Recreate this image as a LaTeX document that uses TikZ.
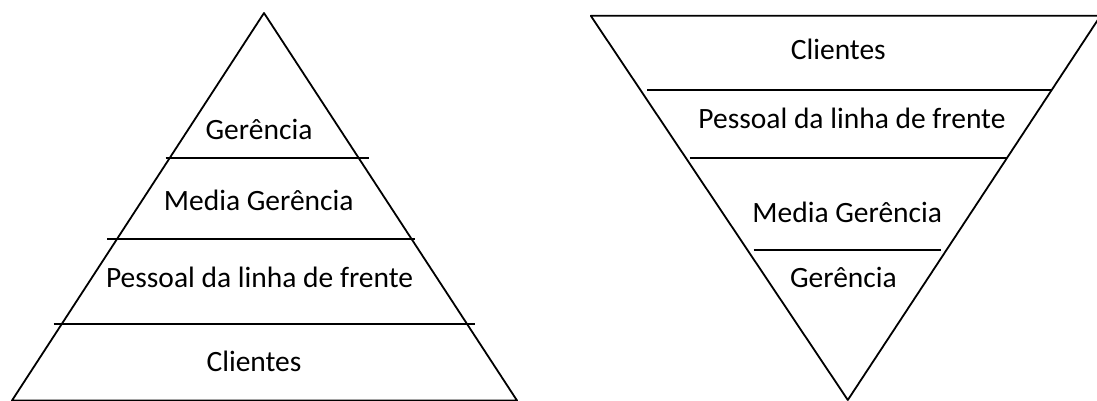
\documentclass[tikz,border=0pt]{standalone}
\usepackage{fontspec}
\setmainfont{Carlito}
\begin{document}
\begin{tikzpicture}[x=1pt,y=-1pt,
  edge/.style={line width=1.8pt, line join=round},
  tier/.style={line width=1.8pt},
  lbl/.style={anchor=base, inner sep=0pt, font=\fontsize{29.5}{35}\selectfont}]
\useasboundingbox (0,0) rectangle (1097,401);
\clip (0,0) rectangle (1097,401);
% ---- left pyramid ----
\coordinate (LA) at (264,13);
\coordinate (LB) at (12,400.5);
\coordinate (LC) at (517,400.5);
\draw[edge] (LA) -- (LB) -- (LC) -- cycle;
\coordinate (L1a) at (165.5,158.3); \coordinate (L1b) at (369,158.3);
\coordinate (L2a) at (107,238.8);   \coordinate (L2b) at (415,238.8);
\coordinate (L3a) at (53.5,324);    \coordinate (L3b) at (475,324);
\draw[tier] (L1a) -- (L1b);
\draw[tier] (L2a) -- (L2b);
\draw[tier] (L3a) -- (L3b);
\node[lbl] (lg) at (259,139.3) {Gerência};
\node[lbl] (lm) at (258.7,210) {Media Gerência};
\node[lbl] (lp) at (259.6,287) {Pessoal da linha de frente};
\node[lbl] (lc) at (254,371.7) {Clientes};
% ---- right inverted pyramid ----
\coordinate (RA) at (590.8,15.8);
\coordinate (RB) at (1100.5,15.8);
\coordinate (RC) at (847.8,400);
\draw[edge] (RA) -- (RB) -- (RC) -- cycle;
\coordinate (R1a) at (647.3,90.3);  \coordinate (R1b) at (1051.4,90.3);
\coordinate (R2a) at (689.5,158.3); \coordinate (R2b) at (1007,158.3);
\coordinate (R3a) at (753.5,250.3); \coordinate (R3b) at (941,250.3);
\draw[tier] (R1a) -- (R1b);
\draw[tier] (R2a) -- (R2b);
\draw[tier] (R3a) -- (R3b);
\node[lbl] (rc) at (838.3,60) {Clientes};
\node[lbl] (rp) at (852,128.3) {Pessoal da linha de frente};
\node[lbl] (rm) at (847.2,222.7) {Media Gerência};
\node[lbl] (rg) at (843.4,287.3) {Gerência};
\end{tikzpicture}
\end{document}
